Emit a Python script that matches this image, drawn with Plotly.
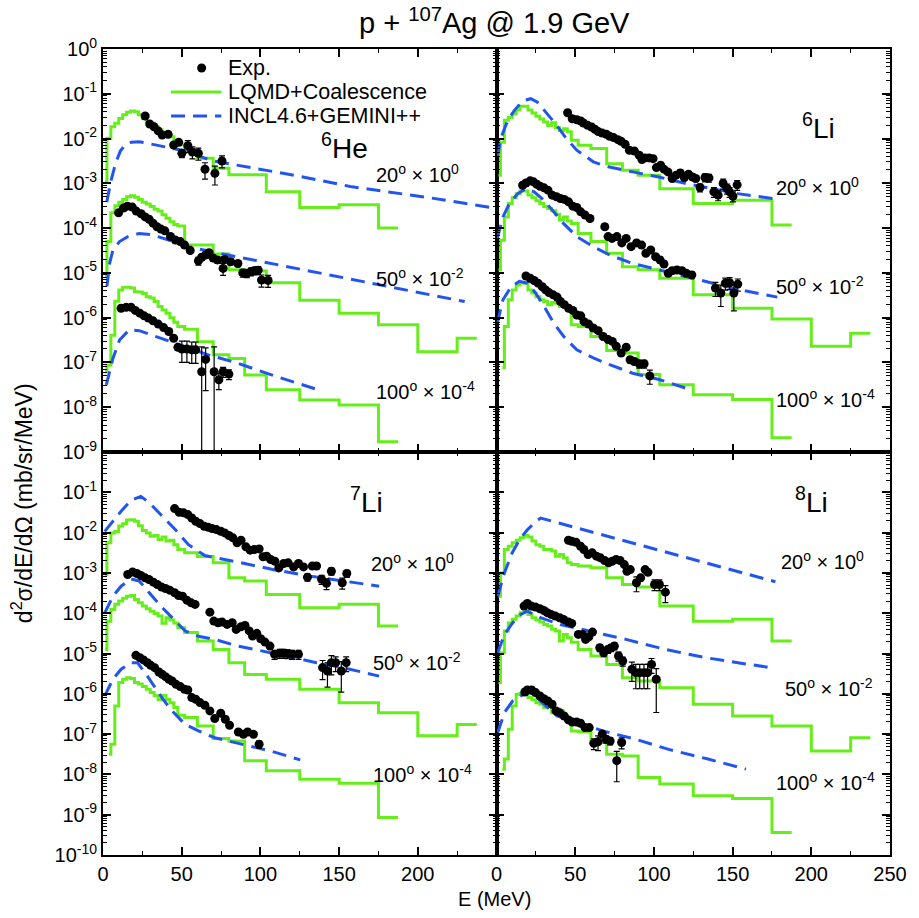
import plotly.graph_objects as go
from plotly.subplots import make_subplots

# ---------------------------------------------------------------------------
# Data: double-differential cross sections d2sigma/dE/dOmega (mb/sr/MeV)
# for p + 107Ag at 1.9 GeV. Values are unscaled; each angle is multiplied by
# its display factor (20 deg x 1, 50 deg x 1e-2, 100 deg x 1e-4) when drawn.
# ---------------------------------------------------------------------------
ANGLES = [20, 50, 100]
SCALE_POWER = [0, -2, -4]

# LQMD+Coalescence histogram bin centres (MeV)
BIN_CENTERS = [1.25, 3.75, 6.25, 8.75, 11.25, 13.75, 16.25, 18.75, 21.25, 23.75,
               26.25, 28.75, 31.25, 33.75, 36.25, 38.75, 41.25, 43.75, 46.25, 48.75,
               55, 65, 75, 85, 95, 112.5, 137.5, 162.5, 187.5, 212.5, 237.5]

# ----------------------------- 6He ----------------------------------------
HE6_20_E = [26.8, 29.7, 32.4, 35.1, 37.6, 41.4, 44.9, 48.1, 50.1, 53.9, 56.8, 60.6, 64.8, 71.1, 75.6]
HE6_20_V = [3.19e-2, 2.11e-2, 1.84e-2, 1.48e-2, 1.20e-2, 1.24e-2, 7.18e-3, 8.24e-3, 4.68e-3,
            6.92e-3, 5.0e-3, 4.68e-3, 2.06e-3, 1.67e-3, 3.16e-3]
HE6_20_ERR = [0.05, 0.06, 0.06, 0.08, 0.08, 0.1, 0.12, 0.15, 0.2, 0.3, 0.3, 0.3, 0.4, 0.45, 0.3]

HE6_50_E = [9.9, 13.0, 15.5, 18.6, 21.1, 24.2, 26.8, 29.3, 31.8, 34.3, 36.8, 39.3, 42.9, 46.0,
            49.1, 51.8, 55.4, 60.6, 62.7, 65.2, 67.3, 70.0, 72.7, 76.3, 77.3, 81.1, 85.7, 88.8,
            91.3, 94.0, 96.5, 98.6, 100.7, 104.9]
HE6_50_V = [2.19e-2, 2.82e-2, 3.09e-2, 2.95e-2, 2.40e-2, 2.09e-2, 1.78e-2, 1.58e-2, 1.29e-2,
            1.07e-2, 9.5e-3, 8.7e-3, 6.5e-3, 5.4e-3, 5.0e-3, 4.2e-3, 3.16e-3, 1.86e-3, 2.24e-3,
            2.51e-3, 2.82e-3, 2.14e-3, 1.95e-3, 1.26e-3, 2.0e-3, 1.78e-3, 1.62e-3, 1.0e-3,
            9.8e-4, 1.07e-3, 1.12e-3, 1.15e-3, 6.9e-4, 6.8e-4]
HE6_50_ERR = [0.04, 0.04, 0.04, 0.04, 0.04, 0.04, 0.04, 0.04, 0.04, 0.04, 0.04, 0.04, 0.06,
              0.06, 0.08, 0.08, 0.1, 0.2, 0.15, 0.15, 0.15, 0.15, 0.15, 0.3, 0.15, 0.15, 0.15,
              0.2, 0.2, 0.2, 0.2, 0.2, 0.3, 0.3]

HE6_100_E = [11.5, 14.7, 17.8, 20.5, 23.4, 26.1, 28.8, 31.8, 35.1, 38.5, 41.8, 44.9, 47.6,
             50.1, 53.3, 56.4, 58.9, 62.7, 65.2, 70.6, 73.6, 76.3, 80.0]
HE6_100_V = [1.62e-2, 1.70e-2, 1.70e-2, 1.45e-2, 1.26e-2, 1.10e-2, 9.8e-3, 8.5e-3, 7.2e-3,
             6.0e-3, 4.9e-3, 3.47e-3, 2.19e-3, 2.0e-3, 2.0e-3, 1.91e-3, 1.91e-3, 6.2e-4,
             1.17e-3, 6.2e-4, 4.1e-4, 6.2e-4, 5.5e-4]
HE6_100_ERR = [0.04, 0.04, 0.04, 0.04, 0.04, 0.04, 0.05, 0.05, 0.05, 0.06, 0.1, 0.12, 0.15,
               0.5, 0.5, 0.5, 0.5, 2.6, 0.8, 2.6, 0.4, 0.25, 0.25]

HE6_20_LQMD = [1.10e-3, 1.01e-2, 1.84e-2, 2.19e-2, 2.82e-2, 3.39e-2, 3.89e-2, 4.12e-2, 3.98e-2,
               3.39e-2, 2.82e-2, 2.40e-2, 2.19e-2, 1.84e-2, 1.55e-2, 1.38e-2, 1.24e-2, 1.10e-2,
               9.33e-3, 7.24e-3, 5.13e-3, 3.63e-3, 2.16e-3, 1.55e-3, 1.55e-3, 6.46e-4, 2.88e-4,
               3.31e-4, 1.0e-4]
HE6_50_LQMD = [8.51e-4, 5.01e-3, 2.19e-2, 3.16e-2, 3.80e-2, 4.37e-2, 5.01e-2, 5.25e-2, 4.90e-2,
               4.37e-2, 3.80e-2, 3.47e-2, 3.02e-2, 2.63e-2, 2.40e-2, 2.0e-2, 1.66e-2, 1.38e-2,
               1.20e-2, 1.12e-2, 4.17e-3, 4.17e-3, 2.63e-3, 1.17e-3, 1.10e-3, 6.03e-4, 2.45e-4,
               1.26e-4, 6.92e-5, 1.74e-5, 3.47e-5]
HE6_100_LQMD = [6.17e-4, 8.71e-4, 4.07e-3, 2.34e-2, 4.17e-2, 4.79e-2, 4.79e-2, 4.57e-2, 3.80e-2,
                3.72e-2, 3.47e-2, 2.95e-2, 2.75e-2, 2.29e-2, 1.78e-2, 1.48e-2, 1.26e-2, 1.0e-2,
                7.94e-3, 6.31e-3, 5.50e-3, 2.88e-3, 1.48e-3, 1.23e-3, 5.25e-4, 2.45e-4, 1.45e-4,
                1.12e-4, 1.70e-5]

HE6_20_INCL_E = [2.4, 5.0, 8.0, 11.0, 14.0, 18.0, 23.0, 31.3, 50.0, 70.0, 96.0, 123.0, 157.0, 207.0, 250.0]
HE6_20_INCL_V = [3.80e-4, 1.12e-3, 2.82e-3, 5.25e-3, 7.24e-3, 8.32e-3, 8.51e-3, 7.41e-3, 5.50e-3,
                 3.16e-3, 2.19e-3, 1.48e-3, 8.51e-4, 4.79e-4, 2.75e-4]
HE6_50_INCL_E = [2.5, 4.2, 6.3, 10.5, 15.7, 23.0, 31.3, 41.8, 58.5, 79.4, 102.4, 123.2, 148.3,
                 175.4, 206.8, 229.8]
HE6_50_INCL_V = [5.01e-4, 1.62e-3, 3.24e-3, 5.01e-3, 6.46e-3, 7.59e-3, 7.08e-3, 5.37e-3, 3.55e-3,
                 2.51e-3, 1.74e-3, 1.26e-3, 8.32e-4, 5.37e-4, 3.31e-4, 2.29e-4]
HE6_100_INCL_E = [2.1, 6.3, 10.5, 16.7, 23.0, 33.5, 50.1, 66.9, 85.7, 110.7, 136.8]
HE6_100_INCL_V = [3.16e-4, 1.23e-3, 3.16e-3, 5.37e-3, 5.13e-3, 3.80e-3, 2.45e-3, 1.48e-3,
                  9.55e-4, 4.79e-4, 2.45e-4]

# ----------------------------- 6Li ----------------------------------------
LI6_20_E = [45.2, 48.1, 51.0, 53.5, 55.2, 57.9, 60.4, 62.5, 64.6, 67.1, 69.8, 71.9, 74.4, 77.1,
            79.2, 81.7, 84.4, 87.6, 90.7, 92.4, 94.5, 97.0, 99.5, 101.6, 104.3, 106.4, 108.9,
            111.6, 114.1, 116.8, 119.3, 122.0, 124.5, 126.6, 129.3, 132.5, 135.0, 138.1, 140.8,
            144.0, 146.5, 148.1, 150.2, 152.9]
LI6_20_V = [3.78e-2, 2.77e-2, 2.63e-2, 2.46e-2, 2.22e-2, 1.97e-2, 1.81e-2, 1.61e-2, 1.43e-2,
            1.33e-2, 1.24e-2, 1.12e-2, 1.05e-2, 9.45e-3, 8.67e-3, 7.44e-3, 5.47e-3, 5.28e-3,
            4.23e-3, 3.39e-3, 3.69e-3, 3.69e-3, 3.56e-3, 2.25e-3, 2.54e-3, 2.07e-3, 1.80e-3,
            1.28e-3, 1.52e-3, 1.71e-3, 1.35e-3, 1.60e-3, 1.39e-3, 1.28e-3, 8.06e-4, 1.35e-3,
            1.32e-3, 6.46e-4, 5.44e-4, 9.90e-4, 7.66e-4, 6.46e-4, 5.16e-4, 9.25e-4]
LI6_20_ERR = [0.04, 0.04, 0.04, 0.04, 0.04, 0.04, 0.04, 0.04, 0.04, 0.04, 0.04, 0.04, 0.04,
              0.04, 0.04, 0.05, 0.05, 0.05, 0.06, 0.06, 0.06, 0.06, 0.08, 0.08, 0.08, 0.1, 0.1,
              0.12, 0.12, 0.15, 0.15, 0.15, 0.15, 0.15, 0.2, 0.2, 0.2, 0.25, 0.25, 0.25, 0.25,
              0.25, 0.25, 0.25]

LI6_50_E = [16.6, 18.7, 21.4, 23.5, 25.6, 27.7, 30.2, 32.7, 35.4, 38.1, 40.6, 43.1, 45.8, 48.5,
            51.0, 53.5, 56.3, 59.4, 68.8, 70.9, 73.4, 76.5, 79.6, 82.4, 85.5, 89.0, 92.2, 94.9,
            98.0, 101.1, 103.9, 106.4, 109.1, 111.6, 114.7, 117.8, 120.6, 124.1, 139.1, 142.5,
            145.4, 148.1, 150.8, 153.3]
LI6_50_V = [9.08e-2, 1.02e-1, 1.135e-1, 1.08e-1, 9.55e-2, 8.63e-2, 7.94e-2, 7.03e-2, 5.45e-2,
            5.01e-2, 4.59e-2, 4.37e-2, 3.86e-2, 3.09e-2, 2.88e-2, 2.31e-2, 1.95e-2, 1.64e-2,
            1.07e-2, 6.46e-3, 5.89e-3, 6.46e-3, 4.68e-3, 5.89e-3, 3.85e-3, 4.68e-3, 4.17e-3,
            2.75e-3, 3.24e-3, 2.29e-3, 1.95e-3, 1.58e-3, 9.77e-4, 1.12e-3, 1.16e-3, 1.12e-3,
            9.77e-4, 9.0e-4, 4.57e-4, 3.55e-4, 5.89e-4, 6.03e-4, 3.55e-4, 5.62e-4]
LI6_50_ERR = [0.04, 0.04, 0.04, 0.04, 0.04, 0.04, 0.04, 0.04, 0.04, 0.04, 0.04, 0.04, 0.04,
              0.04, 0.04, 0.04, 0.04, 0.04, 0.05, 0.05, 0.05, 0.05, 0.06, 0.06, 0.06, 0.06, 0.08,
              0.08, 0.08, 0.1, 0.15, 0.15, 0.15, 0.15, 0.15, 0.15, 0.15, 0.15, 0.35, 0.5, 0.3,
              0.3, 0.6, 0.3]

LI6_100_E = [18.7, 21.4, 23.9, 26.4, 29.1, 31.2, 33.3, 36.0, 38.5, 40.6, 43.1, 45.8, 48.5, 51.0,
             53.5, 55.6, 58.4, 61.5, 64.6, 67.7, 70.9, 73.6, 76.1, 79.2, 82.4, 84.9, 87.6, 90.7,
             93.8, 97.4]
LI6_100_V = [8.51e-2, 7.59e-2, 6.76e-2, 5.89e-2, 4.90e-2, 4.17e-2, 3.63e-2, 3.24e-2, 2.88e-2,
             2.29e-2, 1.95e-2, 1.62e-2, 1.45e-2, 1.15e-2, 1.10e-2, 8.13e-3, 7.24e-3, 5.89e-3,
             5.13e-3, 3.80e-3, 3.24e-3, 2.95e-3, 2.29e-3, 1.62e-3, 2.19e-3, 1.15e-3, 1.05e-3,
             9.33e-4, 9.33e-4, 5.01e-4]
LI6_100_ERR = [0.04, 0.04, 0.04, 0.04, 0.04, 0.04, 0.04, 0.04, 0.04, 0.04, 0.04, 0.04, 0.04,
               0.04, 0.04, 0.05, 0.05, 0.05, 0.05, 0.06, 0.06, 0.08, 0.08, 0.1, 0.1, 0.15, 0.15,
               0.2, 0.2, 0.35]

LI6_20_LQMD = [1.51e-3, 8.32e-3, 2.57e-2, 2.95e-2, 3.55e-2, 4.37e-2, 5.25e-2, 5.25e-2, 4.37e-2,
               3.72e-2, 3.16e-2, 2.75e-2, 2.34e-2, 1.95e-2, 2.24e-2, 1.74e-2, 1.51e-2, 1.66e-2,
               1.41e-2, 9.12e-3, 7.08e-3, 6.03e-3, 2.75e-3, 1.95e-3, 1.51e-3, 7.59e-4, 3.55e-4,
               4.17e-4, 1.17e-4]
LI6_50_LQMD = [1.17e-3, 5.37e-3, 1.78e-2, 3.55e-2, 4.79e-2, 5.89e-2, 6.76e-2, 6.76e-2, 5.50e-2,
               4.79e-2, 4.07e-2, 3.55e-2, 3.02e-2, 2.75e-2, 2.45e-2, 2.04e-2, 1.51e-2, 1.78e-2,
               1.45e-2, 1.26e-2, 7.59e-3, 5.01e-3, 2.75e-3, 1.38e-3, 1.17e-3, 7.59e-4, 3.24e-4,
               1.62e-4, 9.33e-5, 2.29e-5, 4.47e-5]
LI6_100_LQMD = [None, 7.59e-4, 6.31e-3, 2.51e-2, 4.17e-2, 5.37e-2, 6.03e-2, 5.89e-2, 4.17e-2,
                3.55e-2, 2.95e-2, 2.51e-2, 2.29e-2, 1.95e-2, 2.19e-2, 2.09e-2, 1.78e-2, 1.95e-2,
                1.48e-2, 6.92e-3, 6.31e-3, 3.80e-3, 1.86e-3, 1.62e-3, 5.37e-4, 3.16e-4, 1.91e-4,
                1.48e-4, 2.09e-5]

LI6_20_INCL_E = [0.5, 3.0, 7.2, 11.4, 16.6, 21.8, 26.0, 31.2, 37.5, 43.7, 51.0, 61.5, 70.9, 86.5,
                 103.2, 119.9, 136.6, 153.3, 175.3]
LI6_20_INCL_V = [3.89e-3, 1.08e-2, 2.57e-2, 4.27e-2, 6.92e-2, 7.76e-2, 6.46e-2, 3.89e-2, 2.14e-2,
                 1.08e-2, 5.50e-3, 3.02e-3, 2.34e-3, 1.80e-3, 1.38e-3, 1.0e-3, 7.59e-4, 5.89e-4,
                 4.57e-4]
LI6_50_INCL_E = [0.5, 4.1, 8.2, 13.5, 18.7, 23.9, 30.2, 36.4, 42.7, 51.0, 61.5, 71.9, 86.5, 103.2,
                 119.9, 136.6, 153.3, 178.4]
LI6_50_INCL_V = [5.89e-3, 1.78e-2, 3.55e-2, 5.89e-2, 7.59e-2, 6.46e-2, 4.17e-2, 2.29e-2, 1.26e-2,
                 6.46e-3, 3.85e-3, 2.51e-3, 1.62e-3, 1.17e-3, 8.32e-4, 5.89e-4, 4.27e-4, 2.88e-4]
LI6_100_INCL_E = [0.5, 4.1, 9.3, 14.5, 19.7, 24.9, 30.2, 36.4, 42.7, 51.0, 61.5, 71.9, 86.5,
                  103.2, 119.9]
LI6_100_INCL_V = [7.59e-3, 2.51e-2, 4.90e-2, 6.46e-2, 5.89e-2, 3.55e-2, 1.78e-2, 7.59e-3,
                  3.80e-3, 1.91e-3, 1.26e-3, 8.91e-4, 5.75e-4, 4.17e-4, 2.69e-4]

# ----------------------------- 7Li ----------------------------------------
LI7_20_E = [45.5, 48.4, 51.2, 53.9, 56.4, 58.9, 61.6, 64.3, 66.8, 69.3, 72.0, 74.8, 77.3, 80.0,
            82.5, 85.2, 87.7, 90.8, 93.5, 96.1, 99.2, 101.7, 104.0, 106.5, 109.2, 111.7, 114.8,
            117.6, 121.1, 124.2, 127.4, 129.9, 133.0, 135.7, 138.9, 142.0, 145.1, 152.0, 154.9]
LI7_20_V = [3.94e-2, 3.20e-2, 3.09e-2, 2.80e-2, 2.31e-2, 1.91e-2, 1.67e-2, 1.44e-2, 1.36e-2,
            1.26e-2, 1.19e-2, 1.08e-2, 9.84e-3, 8.45e-3, 7.41e-3, 5.56e-3, 6.46e-3, 4.43e-3,
            3.66e-3, 3.80e-3, 3.94e-3, 2.51e-3, 2.60e-3, 2.15e-3, 1.95e-3, 1.33e-3, 1.71e-3,
            1.78e-3, 1.41e-3, 1.71e-3, 1.41e-3, 7.83e-4, 1.48e-3, 1.48e-3, 6.92e-4, 5.50e-4,
            1.10e-3, 5.68e-4, 9.66e-4]
LI7_20_ERR = [0.04, 0.04, 0.04, 0.04, 0.04, 0.04, 0.04, 0.04, 0.04, 0.04, 0.04, 0.04, 0.04,
              0.04, 0.05, 0.05, 0.05, 0.06, 0.06, 0.06, 0.06, 0.08, 0.08, 0.08, 0.1, 0.15, 0.1,
              0.1, 0.15, 0.12, 0.12, 0.2, 0.12, 0.12, 0.25, 0.3, 0.2, 0.3, 0.2]

LI7_50_E = [15.7, 18.8, 21.5, 24.0, 26.7, 29.2, 32.0, 34.5, 37.2, 39.7, 42.4, 45.5, 48.0, 50.5,
            53.3, 56.0, 58.5, 67.9, 70.4, 73.1, 75.6, 78.9, 82.1, 84.6, 87.7, 90.2, 92.9, 95.0,
            97.7, 100.2, 102.9, 106.1, 109.0, 112.3, 114.8, 117.3, 120.1, 124.2, 139.5, 142.6,
            145.1, 147.8, 151.4, 154.5]
LI7_50_V = [9.12e-2, 1.05e-1, 9.66e-2, 8.63e-2, 7.55e-2, 6.85e-2, 5.89e-2, 5.16e-2, 4.44e-2,
            4.11e-2, 3.73e-2, 3.21e-2, 2.75e-2, 2.65e-2, 2.11e-2, 1.81e-2, 1.65e-2, 1.06e-2,
            6.37e-3, 5.79e-3, 6.03e-3, 5.27e-3, 5.79e-3, 3.96e-3, 4.61e-3, 4.98e-3, 3.63e-3,
            2.71e-3, 3.16e-3, 2.33e-3, 1.92e-3, 1.53e-3, 9.55e-4, 1.01e-3, 1.01e-3, 9.89e-4,
            9.55e-4, 9.55e-4, 4.47e-4, 3.68e-4, 5.92e-4, 5.92e-4, 3.68e-4, 5.92e-4]
LI7_50_ERR = [0.04, 0.04, 0.04, 0.04, 0.04, 0.04, 0.04, 0.04, 0.04, 0.04, 0.04, 0.04, 0.04,
              0.04, 0.04, 0.04, 0.04, 0.05, 0.05, 0.08, 0.05, 0.05, 0.06, 0.06, 0.06, 0.08, 0.08,
              0.08, 0.1, 0.1, 0.12, 0.15, 0.25, 0.25, 0.25, 0.25, 0.25, 0.25, 0.5, 0.6, 0.5, 0.4,
              0.7, 0.4]

LI7_100_E = [20.9, 23.4, 25.7, 28.2, 30.3, 32.8, 35.5, 37.6, 39.7, 41.8, 43.9, 46.4, 49.1, 51.8,
             53.9, 56.4, 58.9, 61.6, 64.7, 67.9, 71.0, 74.8, 77.7, 80.4, 86.0, 89.2, 91.9, 95.6,
             99.2]
LI7_100_V = [8.99e-2, 7.87e-2, 6.92e-2, 5.92e-2, 5.08e-2, 4.45e-2, 3.48e-2, 3.04e-2, 2.66e-2,
             2.29e-2, 2.08e-2, 1.72e-2, 1.51e-2, 1.29e-2, 1.24e-2, 8.04e-3, 7.31e-3, 6.04e-3,
             5.19e-3, 3.76e-3, 2.43e-3, 3.29e-3, 2.33e-3, 1.66e-3, 1.13e-3, 9.93e-4, 1.13e-3,
             9.93e-4, 5.62e-4]
LI7_100_ERR = [0.04, 0.04, 0.04, 0.04, 0.04, 0.04, 0.04, 0.04, 0.04, 0.04, 0.04, 0.04, 0.04,
               0.04, 0.04, 0.05, 0.05, 0.05, 0.05, 0.06, 0.06, 0.06, 0.08, 0.08, 0.1, 0.12, 0.12,
               0.12, 0.2]

LI7_20_LQMD = [9.12e-4, 5.56e-3, 9.77e-3, 1.07e-2, 1.45e-2, 1.66e-2, 2.04e-2, 2.09e-2, 1.91e-2,
               1.48e-2, 1.12e-2, 9.77e-3, 8.13e-3, 8.51e-3, 6.76e-3, 7.76e-3, 6.17e-3, 6.46e-3,
               5.01e-3, 3.80e-3, 3.16e-3, 2.57e-3, 1.78e-3, 7.59e-4, 6.31e-4, 2.92e-4, 1.36e-4,
               1.66e-4, 4.79e-5]
LI7_50_LQMD = [1.26e-3, 6.31e-3, 1.23e-2, 1.66e-2, 2.0e-2, 2.34e-2, 2.63e-2, 2.75e-2, 2.19e-2,
               1.82e-2, 1.51e-2, 1.29e-2, 1.12e-2, 9.77e-3, 8.51e-3, 5.62e-3, 7.76e-3, 6.76e-3,
               5.75e-3, 4.37e-3, 3.31e-3, 2.04e-3, 1.26e-3, 5.89e-4, 3.02e-4, 2.29e-4, 1.29e-4,
               6.03e-5, 3.39e-5, 9.12e-6, 1.74e-5]
LI7_100_LQMD = [None, 3.16e-4, 5.62e-4, 5.01e-3, 1.91e-2, 2.29e-2, 2.51e-2, 2.40e-2, 1.91e-2,
                1.74e-2, 1.51e-2, 1.29e-2, 1.07e-2, 8.91e-3, 7.08e-3, 9.12e-3, 7.24e-3, 6.03e-3,
                4.57e-3, 2.95e-3, 2.57e-3, 1.58e-3, 7.76e-4, 6.76e-4, 2.19e-4, 1.23e-4, 7.59e-5,
                6.03e-5, 8.51e-6]

LI7_20_INCL_E = [1.1, 6.3, 11.5, 17.8, 24.0, 29.2, 37.6, 45.9, 54.3, 64.7, 85.6, 108.6, 131.5,
                 152.4, 175.4]
LI7_20_INCL_V = [1.07e-2, 1.91e-2, 3.39e-2, 6.31e-2, 7.94e-2, 5.62e-2, 2.63e-2, 1.19e-2, 5.01e-3,
                 2.69e-3, 1.86e-3, 1.20e-3, 8.32e-4, 6.31e-4, 4.68e-4]
LI7_50_INCL_E = [1.1, 6.3, 11.5, 17.8, 23.0, 29.2, 36.6, 43.9, 52.2, 60.6, 71.0, 85.6, 102.3,
                 119.0, 135.7, 152.4, 175.4]
LI7_50_INCL_V = [1.02e-2, 2.63e-2, 4.68e-2, 7.08e-2, 6.31e-2, 3.24e-2, 1.51e-2, 7.76e-3, 3.63e-3,
                 2.69e-3, 2.24e-3, 1.53e-3, 1.15e-3, 8.32e-4, 5.89e-4, 4.47e-4, 2.75e-4]
LI7_100_INCL_E = [1.1, 6.3, 11.5, 17.8, 22.0, 28.2, 36.6, 42.8, 52.2, 60.6, 71.0, 87.7, 106.5,
                  125.3]
LI7_100_INCL_V = [8.91e-3, 2.29e-2, 4.07e-2, 5.89e-2, 5.89e-2, 2.75e-2, 8.91e-3, 4.17e-3,
                  1.74e-3, 1.20e-3, 8.13e-4, 5.62e-4, 3.80e-4, 2.29e-4]

# ----------------------------- 8Li ----------------------------------------
LI8_20_E = [45.7, 47.8, 50.5, 53.4, 55.5, 58.2, 60.8, 63.5, 66.0, 68.7, 71.2, 73.5, 76.0, 78.5,
            81.2, 82.9, 85.0, 88.9, 91.6, 94.4, 96.2, 100.4, 103.5, 107.3]
LI8_20_V = [6.46e-3, 6.11e-3, 5.77e-3, 4.59e-3, 3.80e-3, 2.86e-3, 3.14e-3, 2.60e-3, 2.36e-3,
            2.03e-3, 1.78e-3, 1.95e-3, 2.15e-3, 2.03e-3, 1.61e-3, 1.10e-3, 1.21e-3, 5.68e-4,
            7.55e-4, 1.21e-3, 1.04e-3, 5.16e-4, 5.16e-4, 3.33e-4]
LI8_20_ERR = [0.05, 0.05, 0.05, 0.05, 0.05, 0.06, 0.06, 0.06, 0.06, 0.08, 0.08, 0.08, 0.08,
              0.08, 0.1, 0.15, 0.12, 0.4, 0.15, 0.1, 0.12, 0.3, 0.3, 0.45]

LI8_50_E = [17.5, 19.6, 22.1, 24.8, 27.6, 30.1, 32.2, 34.7, 37.4, 40.1, 42.6, 45.7, 47.8, 52.0,
            54.7, 56.6, 58.7, 61.0, 65.6, 68.1, 70.8, 72.9, 74.9, 77.5, 80.2, 86.0, 88.5, 91.0,
            93.7, 96.0, 98.5, 101.5]
LI8_50_V = [1.50e-2, 1.75e-2, 1.50e-2, 1.42e-2, 1.29e-2, 1.17e-2, 1.03e-2, 9.33e-3, 8.47e-3,
            7.71e-3, 7.01e-3, 6.03e-3, 5.57e-3, 2.98e-3, 2.98e-3, 2.24e-3, 2.61e-3, 3.40e-3,
            1.39e-3, 1.05e-3, 1.26e-3, 1.39e-3, 1.53e-3, 8.65e-4, 6.50e-4, 4.05e-4, 3.34e-4,
            3.34e-4, 3.34e-4, 3.34e-4, 5.37e-4, 2.29e-4]
LI8_50_ERR = [0.04, 0.04, 0.04, 0.04, 0.04, 0.04, 0.04, 0.04, 0.04, 0.04, 0.04, 0.05, 0.05,
              0.08, 0.08, 0.1, 0.1, 0.1, 0.2, 0.2, 0.2, 0.2, 0.2, 0.25, 0.25, 0.5, 0.6, 0.6, 0.6,
              0.6, 0.4, 0.85]

LI8_100_E = [18.0, 19.6, 22.3, 24.8, 27.6, 30.1, 32.6, 35.3, 37.8, 40.1, 43.0, 45.7, 48.2, 50.9,
             53.4, 56.2, 58.9, 61.8, 64.5, 67.2, 69.7, 72.2, 76.4, 79.5]
LI8_100_V = [1.11e-2, 1.24e-2, 1.24e-2, 1.07e-2, 8.83e-3, 7.59e-3, 6.64e-3, 5.50e-3, 3.76e-3,
             3.41e-3, 2.82e-3, 2.25e-3, 2.00e-3, 2.00e-3, 1.86e-3, 1.45e-3, 1.45e-3, 5.89e-4,
             6.46e-4, 1.0e-3, 7.41e-4, 6.76e-4, 2.19e-4, 6.17e-4]
LI8_100_ERR = [0.04, 0.04, 0.04, 0.04, 0.04, 0.04, 0.04, 0.04, 0.05, 0.05, 0.06, 0.08, 0.08,
               0.08, 0.1, 0.1, 0.1, 0.3, 0.4, 0.15, 0.2, 0.2, 0.7, 0.3]

LI8_20_LQMD = [2.63e-4, 1.0e-3, 3.80e-3, 4.57e-3, 5.56e-3, 6.46e-3, 7.41e-3, 8.51e-3, 7.76e-3,
               6.17e-3, 5.01e-3, 4.57e-3, 3.80e-3, 3.80e-3, 3.47e-3, 2.60e-3, 2.85e-3, 2.34e-3,
               1.78e-3, 1.62e-3, 1.48e-3, 1.35e-3, 7.59e-4, 5.13e-4, 4.47e-4, 1.51e-4, 6.31e-5,
               7.08e-5, 2.04e-5]
LI8_50_LQMD = [1.91e-4, 1.05e-3, 3.63e-3, 5.75e-3, 7.08e-3, 8.51e-3, 1.02e-2, 1.10e-2, 9.33e-3,
               7.76e-3, 6.76e-3, 6.03e-3, 5.25e-3, 4.79e-3, 3.98e-3, 3.63e-3, 2.04e-3, 2.95e-3,
               2.45e-3, 1.91e-3, 1.26e-3, 8.71e-4, 5.37e-4, 2.51e-4, 2.09e-4, 1.41e-4, 5.50e-5,
               2.82e-5, 1.58e-5, 3.80e-6, 8.13e-6]
LI8_100_LQMD = [None, 1.35e-4, 2.40e-4, 1.32e-3, 5.01e-3, 9.77e-3, 1.02e-2, 9.77e-3, 8.13e-3,
                7.08e-3, 6.03e-3, 5.50e-3, 4.57e-3, 5.01e-3, 3.39e-3, 4.17e-3, 3.80e-3, 2.82e-3,
                1.95e-3, 1.20e-3, 1.15e-3, 6.17e-4, 3.16e-4, 2.88e-4, 8.32e-5, 5.75e-5, 2.95e-5,
                2.51e-5, 3.63e-6]

LI8_20_INCL_E = [0.8, 5.0, 10.0, 15.0, 19.6, 24.0, 28.0, 60.0, 100.0, 140.0, 177.2]
LI8_20_INCL_V = [2.63e-4, 1.0e-3, 3.16e-3, 7.08e-3, 1.17e-2, 1.74e-2, 2.29e-2, 1.05e-2, 3.98e-3,
                 1.51e-3, 6.03e-4]
LI8_50_INCL_E = [0.8, 5.0, 10.2, 15.4, 19.6, 28.0, 40.5, 61.4, 82.3, 107.3, 132.4, 155.3, 174.1]
LI8_50_INCL_V = [1.05e-3, 2.95e-3, 5.75e-3, 9.33e-3, 1.12e-2, 7.76e-3, 5.25e-3, 3.39e-3, 2.24e-3,
                 1.26e-3, 7.94e-4, 5.75e-4, 4.47e-4]
LI8_100_INCL_E = [0.8, 5.0, 10.2, 15.4, 20.7, 28.0, 38.4, 50.9, 67.6, 88.5, 109.4, 134.4, 158.5]
LI8_100_INCL_V = [1.10e-3, 3.39e-3, 6.61e-3, 8.91e-3, 1.12e-2, 6.61e-3, 2.82e-3, 1.95e-3, 1.20e-3,
                  7.41e-4, 4.17e-4, 2.40e-4, 1.35e-4]

# Axis tick labels
X_TICKS = [0, 50, 100, 150, 200, 250]
X_MINOR = [25, 75, 125, 175, 225]

# ---------------------------------------------------------------------------
# Figure layout
# ---------------------------------------------------------------------------
W, H = 919, 918
M_L, M_R, M_T, M_B = 103, 18, 49, 63
FONT = "Liberation Sans, Arial, Helvetica, sans-serif"
GREEN = "#66EE1A"
BLUE = "#2255F0"


def px(x):
    """Pixel column -> paper x."""
    return (x - M_L) / (W - M_L - M_R)


def py(y):
    """Pixel row -> paper y."""
    return (H - M_B - y) / (H - M_T - M_B)


PANELS = [
    dict(row=1, col=1, label="<sup>6</sup>He", label_at=(348, 146),
         exp=[(HE6_20_E, HE6_20_V, HE6_20_ERR), (HE6_50_E, HE6_50_V, HE6_50_ERR),
              (HE6_100_E, HE6_100_V, HE6_100_ERR)],
         lqmd=[HE6_20_LQMD, HE6_50_LQMD, HE6_100_LQMD],
         incl=[(HE6_20_INCL_E, HE6_20_INCL_V), (HE6_50_INCL_E, HE6_50_INCL_V),
               (HE6_100_INCL_E, HE6_100_INCL_V)],
         angle_at=[(378, 173), (378, 277), (378, 390)]),
    dict(row=1, col=2, label="<sup>6</sup>Li", label_at=(828, 126),
         exp=[(LI6_20_E, LI6_20_V, LI6_20_ERR), (LI6_50_E, LI6_50_V, LI6_50_ERR),
              (LI6_100_E, LI6_100_V, LI6_100_ERR)],
         lqmd=[LI6_20_LQMD, LI6_50_LQMD, LI6_100_LQMD],
         incl=[(LI6_20_INCL_E, LI6_20_INCL_V), (LI6_50_INCL_E, LI6_50_INCL_V),
               (LI6_100_INCL_E, LI6_100_INCL_V)],
         angle_at=[(783, 186), (783, 285), (783, 398)]),
    dict(row=2, col=1, label="<sup>7</sup>Li", label_at=(370, 500),
         exp=[(LI7_20_E, LI7_20_V, LI7_20_ERR), (LI7_50_E, LI7_50_V, LI7_50_ERR),
              (LI7_100_E, LI7_100_V, LI7_100_ERR)],
         lqmd=[LI7_20_LQMD, LI7_50_LQMD, LI7_100_LQMD],
         incl=[(LI7_20_INCL_E, LI7_20_INCL_V), (LI7_50_INCL_E, LI7_50_INCL_V),
               (LI7_100_INCL_E, LI7_100_INCL_V)],
         angle_at=[(373, 562), (375, 661), (375, 773)]),
    dict(row=2, col=2, label="<sup>8</sup>Li", label_at=(821, 500),
         exp=[(LI8_20_E, LI8_20_V, LI8_20_ERR), (LI8_50_E, LI8_50_V, LI8_50_ERR),
              (LI8_100_E, LI8_100_V, LI8_100_ERR)],
         lqmd=[LI8_20_LQMD, LI8_50_LQMD, LI8_100_LQMD],
         incl=[(LI8_20_INCL_E, LI8_20_INCL_V), (LI8_50_INCL_E, LI8_50_INCL_V),
               (LI8_100_INCL_E, LI8_100_INCL_V)],
         angle_at=[(788, 560), (792, 687), (783, 781)]),
]

fig = make_subplots(rows=2, cols=2, horizontal_spacing=0, vertical_spacing=0)

annotations = []
for p in PANELS:
    r, c = p["row"], p["col"]
    for k, angle in enumerate(ANGLES):
        f = 10.0 ** SCALE_POWER[k]

        # LQMD+Coalescence histogram
        vals = p["lqmd"][k]
        fig.add_trace(go.Scatter(
            x=BIN_CENTERS[:len(vals)],
            y=[None if v is None else v * f for v in vals],
            mode="lines", line=dict(color=GREEN, width=3, shape="hvh"),
            showlegend=False, hoverinfo="skip"), row=r, col=c)

        # INCL4.6+GEMINI++ curve
        e_incl, v_incl = p["incl"][k]
        fig.add_trace(go.Scatter(
            x=e_incl, y=[v * f for v in v_incl], mode="lines",
            line=dict(color=BLUE, width=3, dash="14px,8px"),
            showlegend=False, hoverinfo="skip"), row=r, col=c)

    for k, angle in enumerate(ANGLES):
        f = 10.0 ** SCALE_POWER[k]
        e_exp, v_exp, err = p["exp"][k]
        fig.add_trace(go.Scatter(
            x=e_exp, y=[v * f for v in v_exp], mode="markers",
            marker=dict(color="black", size=9),
            error_y=dict(type="data", array=[v * f * q for v, q in zip(v_exp, err)],
                         color="black", thickness=1.2, width=3),
            showlegend=False), row=r, col=c)

        ax_x, ax_y = p["angle_at"][k]
        annotations.append(dict(
            x=px(ax_x), y=py(ax_y), xref="paper", yref="paper", xanchor="left",
            yanchor="middle", showarrow=False,
            text=f"{angle}<sup>o</sup> \u00d7 10<sup>{SCALE_POWER[k]}</sup>",
            font=dict(family=FONT, size=20, color="black")))

    lx, ly = p["label_at"]
    annotations.append(dict(
        x=px(lx), y=py(ly), xref="paper", yref="paper", xanchor="center",
        yanchor="middle", showarrow=False, text=p["label"],
        font=dict(family=FONT, size=28, color="black")))

# Axes
for r in (1, 2):
    for c in (1, 2):
        if r == 2 and c == 1:
            xt = ["0", "50", "100", "150", "200", ""]
        else:
            xt = [str(v) for v in X_TICKS]
        fig.update_xaxes(
            row=r, col=c, range=[0, 250], showline=True, linecolor="black", linewidth=1.8,
            mirror="allticks", ticks="inside", ticklen=8, tickwidth=1.5, tickcolor="black",
            tickvals=X_TICKS, ticktext=xt, showticklabels=(r == 2), showgrid=False,
            zeroline=False, tickfont=dict(family=FONT, size=20, color="black"),
            minor=dict(tickvals=X_MINOR, ticks="inside", ticklen=4, tickwidth=1.2,
                       tickcolor="black"))
        lo = -9 if r == 1 else -10
        yvals = [10.0 ** e for e in range(lo, 1)]
        ytext = [f"10<sup>{e}</sup>" for e in range(lo, 1)]
        if r == 2:
            ytext[-1] = ""
        yminor = [m * 10.0 ** e for e in range(lo, 0) for m in range(2, 10)]
        fig.update_yaxes(
            row=r, col=c, type="log", range=[lo, 0], showline=True, linecolor="black",
            linewidth=1.8, mirror="allticks", ticks="inside", ticklen=8, tickwidth=1.5,
            tickcolor="black", tickvals=yvals, ticktext=ytext, showticklabels=(c == 1),
            showgrid=False, zeroline=False, tickfont=dict(family=FONT, size=20, color="black"),
            minor=dict(tickvals=yminor, ticks="inside", ticklen=4, tickwidth=1,
                       tickcolor="black"))

# Legend (top-left panel)
shapes = [
    dict(type="circle", xref="paper", yref="paper", xsizemode="pixel", ysizemode="pixel",
         xanchor=px(203), yanchor=py(68), x0=-4.5, x1=4.5, y0=-4.5, y1=4.5,
         fillcolor="black", line=dict(color="black", width=0)),
    dict(type="line", xref="paper", yref="paper", x0=px(172), x1=px(223), y0=py(92),
         y1=py(92), line=dict(color=GREEN, width=3)),
    dict(type="line", xref="paper", yref="paper", x0=px(172), x1=px(223), y0=py(116),
         y1=py(116), line=dict(color=BLUE, width=3, dash="14px,8px")),
]
for text, yy in (("Exp.", 68), ("LQMD+Coalescence", 92), ("INCL4.6+GEMINI++", 116)):
    annotations.append(dict(x=px(228), y=py(yy), xref="paper", yref="paper",
                            xanchor="left", yanchor="middle", showarrow=False, text=text,
                            font=dict(family=FONT, size=21.5, color="black")))

# Title and axis titles
annotations.append(dict(x=px(500), y=py(21), xref="paper", yref="paper", xanchor="center",
                        yanchor="middle", showarrow=False,
                        text="p + <sup>107</sup>Ag @ 1.9 GeV",
                        font=dict(family=FONT, size=29, color="black")))
annotations.append(dict(x=px(500), y=py(899), xref="paper", yref="paper", xanchor="center",
                        yanchor="middle", showarrow=False, text="E (MeV)",
                        font=dict(family=FONT, size=20, color="black")))
annotations.append(dict(x=px(21), y=py(503), xref="paper", yref="paper", xanchor="center",
                        yanchor="middle", showarrow=False, textangle=-90,
                        text="d<sup>2</sup>\u03c3/dE/d\u03a9 (mb/sr/MeV)",
                        font=dict(family=FONT, size=23, color="black")))

fig.update_layout(
    width=W, height=H, margin=dict(l=M_L, r=M_R, t=M_T, b=M_B),
    paper_bgcolor="white", plot_bgcolor="white", showlegend=False,
    annotations=annotations, shapes=shapes,
)

fig.write_html("out.html")
